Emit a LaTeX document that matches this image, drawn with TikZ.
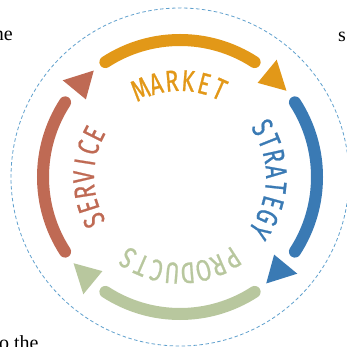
\documentclass[tikz,border=0pt]{standalone}
\usepackage{fontspec}
\newfontfamily\cyclefam[FakeStretch=0.74, FakeBold=0.7]{Fira Sans}
\newfontfamily\pagefont{Liberation Serif}

\definecolor{mktorange}{RGB}{226,152,24}
\definecolor{stratblue}{RGB}{58,122,180}
\definecolor{prodgreen}{RGB}{184,199,158}
\definecolor{servbrown}{RGB}{191,106,84}
\definecolor{ringblue}{RGB}{95,160,205}
\newcommand{\cyclefont}{\cyclefam\fontsize{30pt}{30pt}\selectfont}
\tikzset{
    cyclearc/.style={
        line width=12pt, line cap=round
    },
    ring/.style={
        ringblue, line width=0.8pt, dash pattern=on 3.5pt off 2.5pt
    },
    cycleletter/.style={
        font=\cyclefont, inner sep=0pt, anchor=base
    },
    pagetext/.style={
        font=\pagefont\fontsize{20}{20}\selectfont, inner sep=0pt
    }
}

\begin{document}
\begin{tikzpicture}[x=1pt, y=1pt]
    \useasboundingbox (-180,-170) rectangle (167,177);

    % --- running text around the figure ---
    \node[pagetext, anchor=base east] (txtl) at (-167,136.4) {the};
    \node[pagetext, anchor=base west] (txtr) at (158,135) {s};
    \node[pagetext, anchor=base west] (txtb) at (-181,-172) {o the};

    % --- dashed ring ---
    \draw[ring] (0,0) circle[radius=169pt];

    % --- arcs + arrow heads, clockwise ---
    \foreach \q/\col in {90/mktorange, 0/stratblue, -90/prodgreen, 180/servbrown}{
        \draw[cyclearc, \col] ({\q+33}:137pt) arc[start angle=\q+33, end angle=\q-33, radius=137pt];
        \fill[\col] ({\q-39.5}:122pt) -- ({\q-39.5}:152pt) -- ({\q-51}:137pt) -- cycle;
    }

    % --- labels, one letter per node, tops facing out ---
    \foreach \ch [count=\i, evaluate=\i as \a using {114.25-(\i-1)*9.7}] in {M,A,R,K,E,T}
        \node[cycleletter, text=mktorange, rotate=\a-90] (mkt\i) at (\a:86pt) {\ch};
    \foreach \ch [count=\i, evaluate=\i as \a using {31.05-(\i-1)*9.3}] in {S,T,R,A,T,E,G,Y}
        \node[cycleletter, text=stratblue, rotate=\a-90] (str\i) at (\a:86pt) {\ch};
    \foreach \ch [count=\i, evaluate=\i as \a using {-57.1-(\i-1)*9.4}] in {P,R,O,D,U,C,T,S}
        \node[cycleletter, text=prodgreen, rotate=\a-90] (prd\i) at (\a:86pt) {\ch};
    \foreach \ch [count=\i, evaluate=\i as \a using {206.7-(\i-1)*8.9}] in {S,E,R,V,I,C,E}
        \node[cycleletter, text=servbrown, rotate=\a-90] (srv\i) at (\a:86pt) {\ch};
\end{tikzpicture}
\end{document}
